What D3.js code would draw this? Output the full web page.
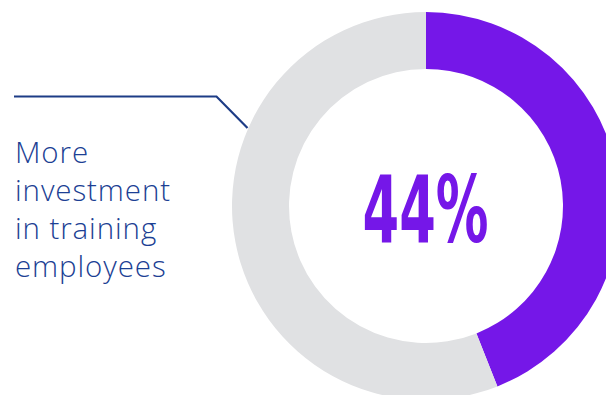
<!DOCTYPE html>
<html>
<head>
<meta charset="utf-8">
<script src="https://cdn.jsdelivr.net/npm/d3@7"></script>
<style>
  html, body { margin: 0; padding: 0; background: #ffffff; }
  svg { display: block; }
</style>
</head>
<body>
<svg id="chart" width="606" height="395"></svg>
<script>
// Share of respondents citing the item, and the remainder of the ring
const shareLabels = ["More investment in training employees", "Other"];
const shareValues = [44, 56];
const shareColors = ["#7517e8", "#e0e1e3"];
const captionLines = ["More", "investment", "in training", "employees"];

const svg = d3.select("#chart");
const cx = 426, cy = 206;
const outerR = 194, innerR = 137;

const pie = d3.pie().sort(null).value(d => d);
const arc = d3.arc().innerRadius(innerR).outerRadius(outerR);

const ring = svg.append("g").attr("transform", `translate(${cx},${cy})`);
ring.selectAll("path")
  .data(pie(shareValues))
  .join("path")
  .attr("d", arc)
  .attr("fill", (d, i) => shareColors[i]);

// Big centre value
const valueText = ring.append("text")
  .attr("text-anchor", "middle")
  .attr("font-family", "'Liberation Sans Narrow', 'DejaVu Sans Condensed', 'Liberation Sans', sans-serif")
  .attr("font-weight", 700)
  .attr("font-size", 92)
  .attr("fill", "#7517e8")
  .text(shareValues[0] + "%");
// fit the condensed figure into its box: 126px wide
{
  const bb = valueText.node().getBBox();
  const sx = 126 / bb.width;
  valueText.attr("transform", `translate(-0.5,35.5) scale(${sx},1)`);
}

// Leader line from caption to ring
const leader = d3.line();
svg.append("path")
  .attr("d", leader([[14, 96.5], [216.5, 96.5], [247.5, 128]]))
  .attr("fill", "none")
  .attr("stroke", "#1d3c86")
  .attr("stroke-width", 2.2);

// Caption
const caption = svg.append("text")
  .attr("font-family", "'Open Sans', 'Liberation Sans', sans-serif")
  .attr("font-weight", 300)
  .attr("font-size", 29.5)
  .attr("letter-spacing", 0.9)
  .attr("fill", "#1c3f94");
caption.selectAll("tspan")
  .data(captionLines)
  .join("tspan")
  .attr("x", 15)
  .attr("y", (d, i) => 162.5 + i * 38)
  .text(d => d);
</script>
</body>
</html>
